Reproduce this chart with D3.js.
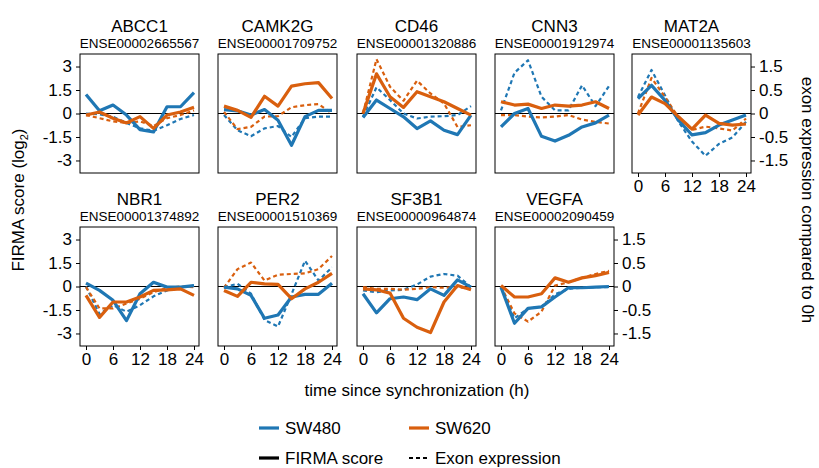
<!DOCTYPE html>
<html><head><meta charset="utf-8">
<script src="https://cdn.jsdelivr.net/npm/d3@7"></script>
<style>
html,body{margin:0;padding:0;background:#fff;}
svg{display:block;font-family:"Liberation Sans",Arial,Helvetica,sans-serif;}
</style></head>
<body><svg id="c" width="819" height="468"></svg>
<script>
const times = [0,3,6,9,12,15,18,21,24];
const genes = ["ABCC1","CAMK2G","CD46","CNN3","MAT2A","NBR1","PER2","SF3B1","VEGFA"];
const exons = ["ENSE00002665567","ENSE00001709752","ENSE00001320886","ENSE00001912974","ENSE00001135603",
               "ENSE00001374892","ENSE00001510369","ENSE00000964874","ENSE00002090459"];
// FIRMA score (log2), SW480
const firma480 = [
  [1.22,0.17,0.54,-0.1,-1.03,-1.18,0.43,0.43,1.33],
  [0.25,0.17,-0.1,0.25,-0.43,-2.03,-0.2,0.2,0.2],
  [-0.25,0.86,0.32,-0.21,-0.96,-0.47,-1.07,-1.35,-0.1],
  [-0.86,0,0.32,-1.46,-1.76,-1.39,-0.86,-0.6,-0.1],
  [0.95,1.8,0.84,-0.42,-1.37,-1.22,-0.74,-0.42,-0.1],
  [0.21,-0.25,-0.88,-2.18,-0.46,0.27,-0.04,-0.04,0.06],
  [-0.04,-0.15,-0.57,-2.03,-1.82,-0.67,-0.5,-0.5,0.21],
  [-0.46,-1.68,-0.78,-0.67,-0.84,-0.15,-0.57,0.42,-0.04],
  [-0.04,-2.35,-1.4,-1.3,-0.67,-0.08,-0.08,-0.04,0]
];
// FIRMA score (log2), SW620
const firma620 = [
  [-0.1,0.1,-0.3,-0.6,-0.2,-0.95,-0.1,0.1,0.4],
  [0.47,0.2,-0.25,1.1,0.47,1.75,1.9,1.97,0.96],
  [0,2.53,1.07,0.39,1.39,1.07,0.75,0.32,-0.1],
  [0.75,0.54,0.6,0.32,0.54,0.47,0.54,0.75,0.32],
  [-0.1,1.05,0.63,-0.21,-1.0,-0.1,-0.63,-0.74,-0.67],
  [-0.57,-1.97,-0.99,-0.99,-0.67,-0.25,-0.21,-0.15,-0.57],
  [-0.25,-0.63,0.27,0.17,0.13,-0.78,-0.15,0.27,0.84],
  [-0.15,-0.21,-0.42,-2.03,-2.6,-2.94,-0.99,0.06,-0.21],
  [0.06,-0.67,-0.67,-0.46,0.55,0.27,0.55,0.69,0.9]
];
// exon expression compared to 0h (plotted on the panel's shared vertical positions), SW480
const exon480 = [
  [0,-0.05,-0.2,-0.6,-0.95,-1.1,-0.75,-0.35,-0.1],
  [-0.1,-1.07,-1.45,-0.95,-0.8,-1.5,-0.3,-0.2,-0.2],
  [-0.2,1.67,0.86,0,-0.32,-0.2,-0.17,-0.1,0.47],
  [0.2,2.6,3.4,1.07,0.2,0.2,1.8,0.47,1.75],
  [1.05,2.78,1.16,-0.53,-1.79,-2.7,-1.94,-1.52,-0.53],
  [0,-1.76,-1.19,-1.61,-1.19,-0.63,-0.25,-0.08,0.06],
  [-0.04,0.17,-0.46,-2.14,-2.56,-0.5,1.64,0.38,1.22],
  [-0.25,-0.36,-0.25,-0.21,0.13,0.63,0.8,0.69,-0.04],
  [-0.04,-2.03,-1.4,-1.3,-0.5,-0.15,-0.08,-0.04,-0.04]
];
// exon expression compared to 0h, SW620
const exon620 = [
  [-0.1,-0.3,-0.5,-0.6,-0.5,-0.8,-0.3,-0.1,0.2],
  [0.1,-1.0,-0.85,-0.2,-0.17,0.4,0.53,0.6,0],
  [0,3.47,1.71,0.81,2.1,1.28,0.64,-0.86,-0.75],
  [-0.1,-0.1,-0.2,-0.25,-0.2,-0.1,-0.39,-0.54,-0.64],
  [0,2.27,1.05,-0.25,-1.05,-0.84,-0.95,-1.09,-0.32],
  [-0.04,-1.4,-1.4,-1.09,-0.78,-0.36,-0.08,0,-0.04],
  [-0.08,1.11,1.53,0.38,0.75,0.8,0.84,1.11,1.95],
  [-0.04,-0.15,-0.15,-0.21,-0.15,-0.04,-0.08,-0.04,-0.15],
  [0,-1.72,-2.24,-1.61,0.06,0.27,0.55,0.8,1.0]
];
const leftTicks = [-3,-1.5,0,1.5,3];
const leftTickLabels = ["-3","-1.5","0","1.5","3"];
const rightTickLabels = ["-1.5","-0.5","0","0.5","1.5"];
const xTicks = [0,6,12,18,24];
const cellLines = ["SW480","SW620"];
const colors = ["#1f77b4","#d95f0e"];

const svg = d3.select("#c");
const W = 119, H = 119;
const colX = [80,218,357,495,632];
const rowY = [54,227];

genes.forEach((g,i)=>{
  const r = i<5?0:1, c = i<5?i:i-5;
  const x0 = colX[c], y0 = rowY[r];
  const gp = svg.append("g").attr("transform",`translate(${x0},${y0})`);
  const x = d3.scaleLinear().domain([0,24]).range([6,114]);
  const y = d3.scaleLinear().domain([-3.8,3.8]).range([H,0]);
  gp.append("text").attr("x",W/2).attr("y",-22).attr("text-anchor","middle")
    .attr("font-size",17).text(g);
  gp.append("text").attr("x",W/2).attr("y",-6).attr("text-anchor","middle")
    .attr("font-size",13.5).text(exons[i]);
  gp.append("line").attr("x1",0).attr("x2",W).attr("y1",y(0)).attr("y2",y(0))
    .attr("stroke","#000").attr("stroke-width",1);
  const line = d3.line().x((d,k)=>x(times[k])).y(d=>y(d));
  const series = [
    {v:exon480[i],col:colors[0],dash:"4,3",w:2.2},
    {v:exon620[i],col:colors[1],dash:"4,3",w:2.2},
    {v:firma480[i],col:colors[0],dash:null,w:3.2},
    {v:firma620[i],col:colors[1],dash:null,w:3.2}
  ];
  series.forEach(s=>{
    gp.append("path").datum(s.v).attr("d",line).attr("fill","none")
      .attr("stroke",s.col).attr("stroke-width",s.w)
      .attr("stroke-dasharray",s.dash).attr("stroke-linejoin","round");
  });
  gp.append("rect").attr("width",W).attr("height",H).attr("fill","none")
    .attr("stroke","#000").attr("stroke-width",1);
  if(c===0){
    const ax = d3.axisLeft(y).tickValues(leftTicks).tickSize(4).tickPadding(4)
      .tickFormat((d,k)=>leftTickLabels[k]);
    const a = gp.append("g").call(ax);
    a.select(".domain").remove();
    a.selectAll("text").attr("font-size",17).attr("font-family","Liberation Sans, Arial, sans-serif").attr("fill","#000");
  }
  if(i===4 || i===8){
    const ax = d3.axisRight(y).tickValues(leftTicks).tickSize(4).tickPadding(4)
      .tickFormat((d,k)=>rightTickLabels[k]);
    const a = gp.append("g").attr("transform",`translate(${W},0)`).call(ax);
    a.select(".domain").remove();
    a.selectAll("text").attr("font-size",17).attr("font-family","Liberation Sans, Arial, sans-serif").attr("fill","#000");
  }
  if(i>=4){
    const ax = d3.axisBottom(x).tickValues(xTicks).tickSize(4).tickPadding(3);
    const a = gp.append("g").attr("transform",`translate(0,${H})`).call(ax);
    a.select(".domain").remove();
    a.selectAll("text").attr("font-size",17).attr("font-family","Liberation Sans, Arial, sans-serif").attr("fill","#000");
  }
});

const yl = svg.append("text").attr("transform","translate(24,200) rotate(-90)")
  .attr("text-anchor","middle").attr("font-size",17);
yl.append("tspan").text("FIRMA score (log");
yl.append("tspan").attr("font-size",11).attr("dy",4).text("2");
yl.append("tspan").attr("dy",-4).text(")");
svg.append("text").attr("transform","translate(802,200) rotate(90)")
  .attr("text-anchor","middle").attr("font-size",17).text("exon expression compared to 0h");
svg.append("text").attr("x",417).attr("y",396).attr("text-anchor","middle")
  .attr("font-size",17).text("time since synchronization (h)");

const leg = svg.append("g");
const legItems = [
  {x:259,y:428,col:colors[0],dash:null,label:cellLines[0]},
  {x:409,y:428,col:colors[1],dash:null,label:cellLines[1]},
  {x:259,y:458,col:"#000",dash:null,label:"FIRMA score"},
  {x:409,y:458,col:"#000",dash:"4,3",label:"Exon expression"}
];
legItems.forEach(d=>{
  leg.append("line").attr("x1",d.x).attr("x2",d.x+20).attr("y1",d.y).attr("y2",d.y)
    .attr("stroke",d.col).attr("stroke-width",d.dash?2:3.2).attr("stroke-dasharray",d.dash);
  leg.append("text").attr("x",d.x+26).attr("y",d.y+6).attr("font-size",17).text(d.label);
});
</script></body></html>
